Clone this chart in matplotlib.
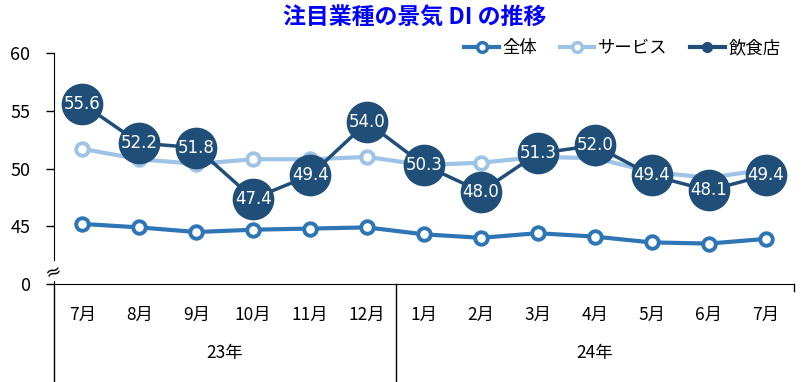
import matplotlib.pyplot as plt
from matplotlib.lines import Line2D
import numpy as np

plt.rcParams['font.family'] = ['Noto Sans CJK JP', 'DejaVu Sans']

months = ['7月', '8月', '9月', '10月', '11月', '12月', '1月', '2月', '3月', '4月', '5月', '6月', '7月']
years = ['23年', '24年']
zentai = [45.2, 44.9, 44.5, 44.7, 44.8, 44.9, 44.3, 44.0, 44.4, 44.1, 43.6, 43.5, 43.9]
service = [51.7, 50.8, 50.4, 50.8, 50.8, 51.0, 50.3, 50.5, 51.0, 50.9, 49.7, 49.2, 49.9]
inshoku = [55.6, 52.2, 51.8, 47.4, 49.4, 54.0, 50.3, 48.0, 51.3, 52.0, 49.4, 48.1, 49.4]

c_zen = '#2e75b6'
c_srv = '#9dc3e6'
c_ins = '#1f4e79'

fig = plt.figure(figsize=(8.04, 3.82), dpi=100)
ax = fig.add_axes([54/804, 1-284/382, 740/804, 231/382])
x = np.arange(len(months))

ax.plot(x, zentai, color=c_zen, lw=3, marker='o', ms=9, mfc='white', mec=c_zen, mew=2.8, zorder=3)
ax.plot(x, service, color=c_srv, lw=3, marker='o', ms=9, mfc='white', mec=c_srv, mew=2.8, zorder=2)
ax.plot(x, inshoku, color=c_ins, lw=2.5, marker='o', ms=29, mfc=c_ins, mec=c_ins, zorder=4)
for xi, v in zip(x, inshoku):
    ax.text(xi, v, f'{v:.1f}', color='white', ha='center', va='center', fontsize=12, zorder=5,
            family=['DejaVu Sans'])

ax.set_xlim(-0.5, len(months) - 0.5)
ax.set_ylim(40, 60)
ax.set_yticks([40, 45, 50, 55, 60])
ax.set_yticklabels(['0', '45', '50', '55', '60'], fontsize=13)
ax.tick_params(axis='y', length=6, pad=11, width=1)
ax.set_xticks(x)
ax.set_xticklabels(months, fontsize=12.5)
ax.tick_params(axis='x', length=0, pad=16)
for s in ['top', 'right']:
    ax.spines[s].set_visible(False)

# category table lines below axis
tr = ax.get_xaxis_transform()
ax.plot([-0.5, -0.5], [0, -0.43], color='black', lw=1, transform=tr, clip_on=False)
ax.plot([5.5, 5.5], [0, -0.43], color='black', lw=1, transform=tr, clip_on=False)
ax.plot([12.5, 12.5], [0, -0.03], color='black', lw=1, transform=tr, clip_on=False)
ax.text(2.5, -0.3, years[0], transform=tr, ha='center', va='center', fontsize=12.5)
ax.text(9.0, -0.3, years[1], transform=tr, ha='center', va='center', fontsize=12.5)

# axis break mark
ax.text(0, 0.055, '≈', transform=ax.transAxes, ha='center', va='center', fontsize=14,
        rotation=20, bbox=dict(facecolor='white', edgecolor='none', pad=0), family=['DejaVu Sans'])

fig.text(0.516, 0.953, '注目業種の景気 DI の推移', ha='center', va='center', fontsize=16.5,
         fontweight='bold', color='#0000ff')

handles = [
    Line2D([], [], color=c_zen, lw=3, marker='o', ms=7, mfc='white', mec=c_zen, mew=2.5),
    Line2D([], [], color=c_srv, lw=3, marker='o', ms=7, mfc='white', mec=c_srv, mew=2.5),
    Line2D([], [], color=c_ins, lw=3, marker='o', ms=7, mfc=c_ins, mec=c_ins),
]
fig.legend(handles, ['全体', 'サービス', '飲食店'], loc='center right', bbox_to_anchor=(0.99, 1-48/382),
           ncol=3, frameon=False, fontsize=12.5, handlelength=2.0, columnspacing=1.3, handletextpad=0.2)

fig.savefig('out.png', dpi=100)
